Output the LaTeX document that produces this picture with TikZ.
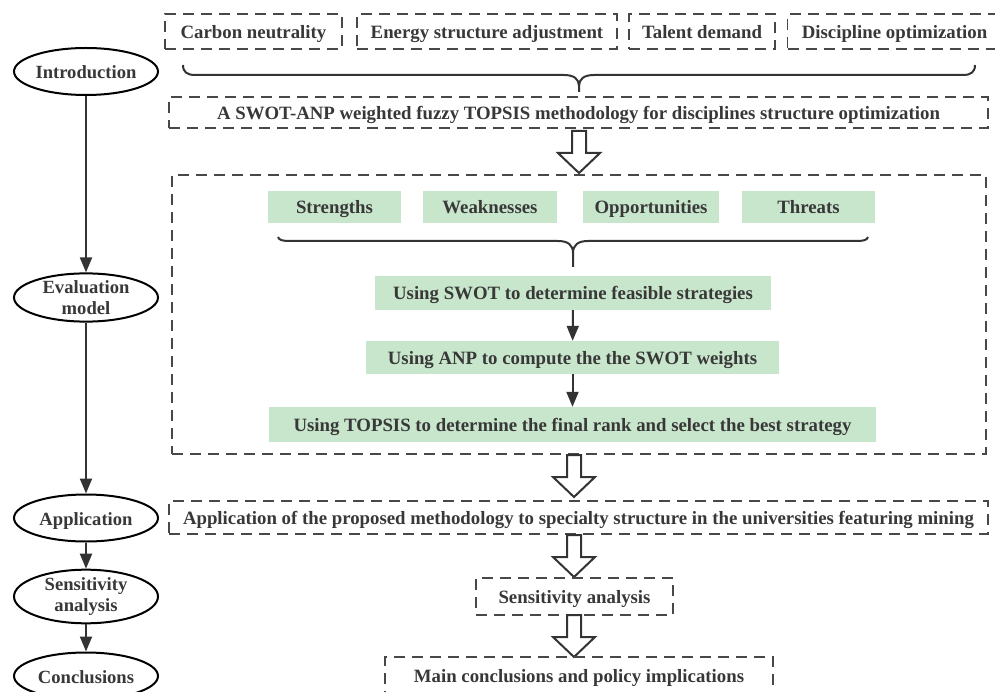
\documentclass[tikz,border=0pt]{standalone}
\usepackage{fontspec}
\setmainfont{Liberation Serif}
\usetikzlibrary{arrows.meta,shapes.geometric,calc}
\definecolor{txt}{HTML}{383838}
\definecolor{dashc}{HTML}{484848}
\definecolor{gfill}{HTML}{C8E6CC}
\definecolor{linec}{HTML}{333333}
\tikzset{
  dbox/.style={draw=dashc, line width=1.4pt, dash pattern=on 11pt off 7pt, inner sep=0pt, text=txt,
    font=\bfseries\fontsize{18.8}{21}\selectfont, text height=14pt, text depth=0pt},
  gbox/.style={fill=gfill, inner sep=0pt, text=txt,
    font=\bfseries\fontsize{18.8}{21}\selectfont, text height=14pt, text depth=0pt},
  stage/.style={ellipse, draw=black, line width=2pt, minimum width=144pt, minimum height=47pt, inner sep=0pt,
    text=txt, align=center, font=\bfseries\fontsize{18.6}{21}\selectfont},
  stage1/.style={stage, text height=14pt, text depth=0pt},
  flow/.style={draw=linec, line width=2pt, -{Triangle[length=15pt,width=12pt]}},
  brace/.style={draw=linec, line width=2pt},
  harrow/.pic={\draw[draw=linec, line width=2pt, fill=white, line join=miter]
     (-7,0) -- (-7,22) -- (-21,22) -- (0,42) -- (21,22) -- (7,22) -- (7,0) -- cycle;}
}
\begin{document}
\begin{tikzpicture}[x=1pt,y=-1pt]
\useasboundingbox (0,0) rectangle (995,692);
\fill[white] (0,0) rectangle (995,692);

% top row
\node[dbox, minimum width=177pt, minimum height=35pt] (carbon) at (253.5,31.5) {Carbon neutrality};
\node[dbox, minimum width=260pt, minimum height=35pt] (energy) at (487,31.5) {Energy structure adjustment};
\node[dbox, minimum width=146pt, minimum height=35pt] (talent) at (702,31.5) {Talent demand};
\node[dbox, minimum width=214pt, minimum height=35pt] (disc) at (894.5,31.5) {Discipline optimization};

% brace 1
\draw[brace] (183,65) .. controls (183,72) and (187,75) .. (195,75) -- (564,75)
   .. controls (574,75) and (579,79) .. (579,86) -- (579,92);
\draw[brace] (975,65) .. controls (975,72) and (971,75) .. (963,75) -- (594,75)
   .. controls (584,75) and (579,79) .. (579,86);

\node[dbox, minimum width=819pt, minimum height=31pt] (swotanp) at (578.5,112.5)
  {A SWOT-ANP weighted fuzzy TOPSIS methodology for disciplines structure optimization};

% evaluation frame
\node[dbox, minimum width=814pt, minimum height=279pt] (evalbox) at (579,314.5) {};

\pic at (579,131) {harrow};

\node[gbox, minimum width=133pt, minimum height=32pt] (S) at (334.5,207) {Strengths};
\node[gbox, minimum width=134pt, minimum height=32pt] (W) at (490,207) {Weaknesses};
\node[gbox, minimum width=136pt, minimum height=32pt] (O) at (651,207) {Opportunities};
\node[gbox, minimum width=133pt, minimum height=32pt] (T) at (808.5,207) {Threats};

% brace 2
\draw[brace] (278,237) .. controls (279,240) and (282,241) .. (290,241) -- (558,241)
   .. controls (568,241) and (573,245) .. (573,253) -- (573,267);
\draw[brace] (868,237) .. controls (867,240) and (864,241) .. (856,241) -- (588,241)
   .. controls (578,241) and (573,245) .. (573,253);

\node[gbox, minimum width=396pt, minimum height=34pt] (swot) at (573,293) {Using SWOT to determine feasible strategies};
\node[gbox, minimum width=413pt, minimum height=33pt] (anp) at (572.5,357.5) {Using ANP to compute the the SWOT weights};
\node[gbox, minimum width=607pt, minimum height=35pt] (topsis) at (572.5,424.5) {Using TOPSIS to determine the final rank and select the best strategy};
\draw[flow] (swot) -- (anp);
\draw[flow] (anp) -- (topsis);

\pic at (574,455) {harrow};

\node[dbox, minimum width=819pt, minimum height=33pt] (app) at (578.5,517.5)
  {Application of the proposed methodology to specialty structure in the universities featuring mining};

\pic at (574,535) {harrow};

\node[dbox, minimum width=197pt, minimum height=37pt] (sens) at (574.5,596.5) {Sensitivity analysis};

\pic at (574,615) {harrow};

\node[dbox, minimum width=388pt, minimum height=36pt] (mainc) at (579,675) {Main conclusions and policy implications};

% left column
\node[stage1] (intro) at (86,71.5) {Introduction};
\node[stage] (evalm) at (86,297.5) {Evaluation\\model};
\node[stage1] (appl) at (86,518) {Application};
\node[stage] (sensm) at (86,596.5) {Sensitivity\\analysis};
\node[stage1] (concl) at (86,676) {Conclusions};
\draw[flow] (intro) -- (evalm);
\draw[flow] (evalm) -- (appl);
\draw[flow] (appl) -- (sensm);
\draw[flow] (sensm) -- (concl);
\end{tikzpicture}
\end{document}
